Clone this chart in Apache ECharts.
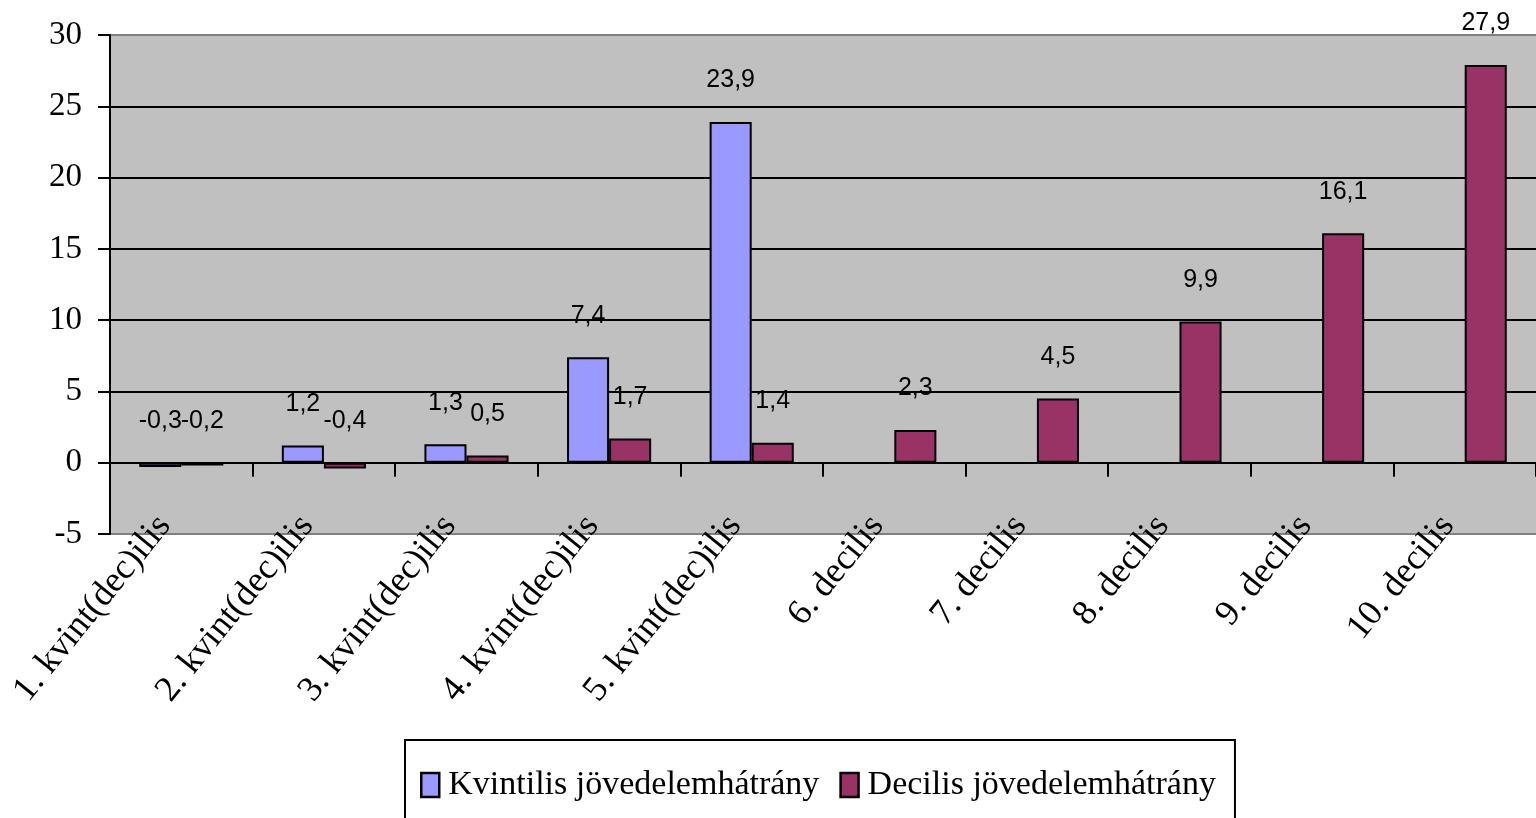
<!DOCTYPE html>
<html>
<head>
<meta charset="utf-8">
<script src="https://cdn.jsdelivr.net/npm/echarts@6/dist/echarts.min.js"></script>
<style>
  html, body { margin: 0; padding: 0; background: #fff; }
  #main { width: 1536px; height: 818px; }
</style>
</head>
<body>
<div id="main"></div>
<script>
// kategóriák és adatok
var categories = ['1. kvint(dec)ilis', '2. kvint(dec)ilis', '3. kvint(dec)ilis', '4. kvint(dec)ilis', '5. kvint(dec)ilis',
                  '6. decilis', '7. decilis', '8. decilis', '9. decilis', '10. decilis'];
var kvintilis = [-0.3, 1.2, 1.3, 7.4, 23.9, null, null, null, null, null];
var decilis = [-0.2, -0.4, 0.5, 1.7, 1.4, 2.3, 4.5, 9.9, 16.1, 27.9];
var seriesNames = ['Kvintilis jövedelemhátrány', 'Decilis jövedelemhátrány'];

var serif = '"Liberation Serif", "Times New Roman", serif';
var sans = '"Liberation Sans", Arial, sans-serif';

var myChart = echarts.init(document.getElementById('main'));

var labelOpt = {
    show: true,
    position: 'top',
    distance: 29,
    fontFamily: sans,
    fontSize: 25,
    color: '#000',
    formatter: function (p) {
        return p.value == null ? '' : String(p.value).replace('.', ',');
    }
};

var option = {
    backgroundColor: '#fff',
    animation: false,
    grid: {
        left: 110,
        top: 35,
        right: -2,
        bottom: 284,
        show: true,
        backgroundColor: '#C0C0C0',
        borderWidth: 0
    },
    legend: {
        data: seriesNames,
        left: 405,
        top: 740,
        orient: 'horizontal',
        padding: [28, 19, 40, 15],
        borderColor: '#000',
        borderWidth: 2,
        itemWidth: 18,
        itemHeight: 24,
        itemGap: 20,
        icon: 'rect',
        itemStyle: { borderColor: '#000', borderWidth: 2.5 },
        textStyle: { fontFamily: serif, fontSize: 34, color: '#000', padding: [0, 0, 0, 4] }
    },
    xAxis: [
        {
            type: 'category',
            data: categories,
            position: 'bottom',
            axisLine: { onZero: true, lineStyle: { color: '#000', width: 2 } },
            axisTick: { show: true, length: 14, lineStyle: { color: '#000', width: 2 } },
            axisLabel: { show: false }
        },
        {
            type: 'category',
            data: categories,
            position: 'bottom',
            axisLine: { show: false, onZero: false },
            axisTick: { show: false },
            axisLabel: {
                show: true,
                interval: 0,
                rotate: 51,
                margin: -35,
                padding: [0, 27, 0, 0],
                fontFamily: serif,
                fontSize: 36,
                color: '#000'
            }
        }
    ],
    yAxis: {
        type: 'value',
        min: -5,
        max: 30,
        interval: 5,
        axisLine: { show: true, lineStyle: { color: '#000', width: 2 } },
        axisTick: { show: true, length: 12, lineStyle: { color: '#000', width: 2 } },
        axisLabel: { margin: 28, fontFamily: serif, fontSize: 33, color: '#000' },
        splitLine: {
            show: true,
            showMinLine: true,
            showMaxLine: true,
            lineStyle: {
                color: ['#808080', '#000', '#000', '#000', '#000', '#000', '#000', '#808080'],
                width: 2
            }
        }
    },
    series: [
        {
            name: seriesNames[0],
            type: 'bar',
            xAxisIndex: 0,
            data: kvintilis,
            barGap: '0%',
            barCategoryGap: '41%',
            itemStyle: { color: '#9999FF', borderColor: '#000', borderWidth: 2 },
            label: labelOpt
        },
        {
            name: seriesNames[1],
            type: 'bar',
            xAxisIndex: 0,
            data: decilis,
            barGap: '0%',
            barCategoryGap: '41%',
            itemStyle: { color: '#993366', borderColor: '#000', borderWidth: 2 },
            label: labelOpt
        }
    ]
};

myChart.setOption(option);
</script>
</body>
</html>
